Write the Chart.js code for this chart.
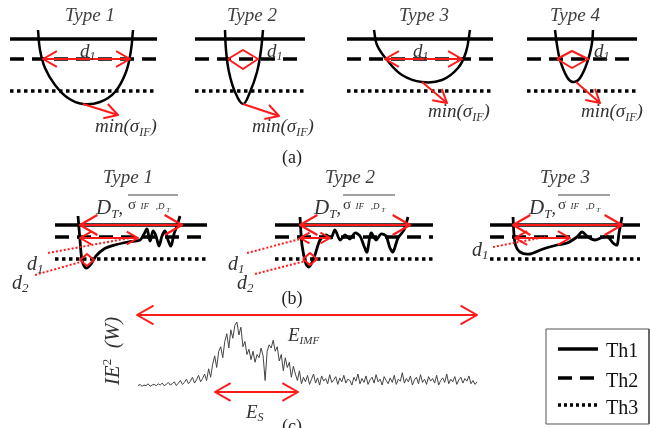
<!DOCTYPE html>
<html><head><meta charset="utf-8">
<script src="https://cdn.jsdelivr.net/npm/chart.js@4.4.0/dist/chart.umd.min.js"></script>
<style>html,body{margin:0;padding:0;background:#fff}#c{display:block}</style>
</head><body>
<canvas id="c" width="650" height="428"></canvas>
<script>
// ---------- data ----------
const TH_A = [39, 59, 91];            // Th1, Th2, Th3 levels, panel (a)
const TH_B = [225, 237, 259];         // Th1, Th2, Th3 levels, panel (b)
const SPAN_A = [[10,157],[195,305],[347,493],[527,637]];
const SPAN_B = [[55,207],[275,433],[490,640]];
const CURVE_A1 = [[38,30],[40,50],[45,68],[55,85],[68,98],[83,104],[100,102],[115,92],[126,72],[131,50],[133,30]];
const CURVE_A2 = [[225,30],[226,50],[229,72],[235,92],[243,104],[250,92],[257,72],[261,50],[263,30]];
const CURVE_A3 = [[374,30],[377,45],[387,60],[402,75],[422,82],[442,80],[458,68],[466,52],[470,30]];
const CURVE_A4 = [[555,30],[557,45],[560,60],[567,77],[573,82],[580,78],[588,60],[592,43],[593,30]];
const CURVE_B1 = [[78,216],[80,240],[82,260],[86,268],[91,264],[96,256],[104,249],[115,245],[128,242],[140,240],[144,234],[147,229],[150,241],[153,231],[156,236],[159,246],[162,236],[165,231],[168,240],[171,246],[174,234],[177,226],[180,216]];
const CURVE_B2 = [[300,217],[302,245],[306,264],[309,267],[314,258],[320,240],[326,235],[331,238],[335,230],[340,240],[345,235],[350,239],[355,233],[360,236],[364,246],[367,252],[371,233],[376,240],[381,234],[386,236],[390,248],[393,252],[398,238],[404,230],[408,217]];
const CURVE_B3 = [[513,217],[515,243],[520,252],[530,254],[543,249],[557,245],[567,243],[577,237],[582,232],[588,237],[595,240],[603,237],[608,237],[613,243],[617,245],[619,233],[622,217]];
// IE^2 signal amplitude (relative units)
const SIGNAL = [
0.02,0.04,0.01,0.03,0.02,0.05,0.01,0.03,0.04,0.02,0.05,0.03,0.06,0.02,0.04,0.07,0.03,0.05,0.08,0.02,0.06,0.1,0.04,0.07,0.12,0.05,0.09,0.15,0.06,0.11,0.18,0.08,0.13,0.2,
0.1,0.28,0.15,0.35,0.48,0.3,0.55,0.62,0.45,0.7,0.82,0.6,0.88,0.75,0.95,1.0,
0.8,0.92,0.62,0.7,0.5,0.58,0.42,0.55,0.38,
0.5,0.45,0.6,0.48,0.1,0.55,0.65,0.6,0.72,
0.55,0.62,0.4,0.5,0.25,0.45,0.3,0.38,0.15,0.32,0.2,0.1,0.25,
0.05,0.15,0.08,0.18,0.04,0.12,0.2,0.06,0.14,0.03,0.17,0.09,0.13,0.05,0.19,0.07,0.11,0.16,0.04,0.14,0.08,0.18,0.06,0.12,0.1,0.03,0.15,0.09,0.2,0.05,0.13,0.07,0.17,0.04,0.11,0.15,0.06,0.19,0.08,0.12,0.03,0.16,0.1,0.05,0.14,0.07,0.18,0.04,0.12,0.09,0.22,0.06,0.13,0.08,0.17,0.03,0.11,0.15,0.05,0.19,0.07,0.12,0.04,0.16,0.09,0.13,0.06,0.18,0.03,0.1,0.14,0.07,0.2,0.05,0.12,0.08,0.16,0.04,0.11,0.15,0.06,0.13,0.09,0.17,0.05,0.1,0.04,0.08];
const LEGEND_LABELS = ['Th1','Th2','Th3'];

// ---------- builders ----------
const RED = '#ff1a1a', BLK = '#000';
const DS = [];
function poly(pts, o = {}) {
  DS.push({data: pts.map(p => ({x:p[0], y:p[1]})), showLine:true,
    borderColor:o.color||BLK, borderWidth:o.w||2, borderDash:o.dash||[],
    tension:o.t||0, pointRadius:0, pointHoverRadius:0, fill:false,
    order:o.order ?? 1, xAxisID:o.xa||'x', yAxisID:o.ya||'y',
    borderCapStyle:o.cap||'butt', borderJoinStyle:'round', clip:false});
}
function head(tip, from, len, ang, o) {
  const dx = from[0]-tip[0], dy = from[1]-tip[1], L = Math.hypot(dx,dy);
  const ux = dx/L, uy = dy/L, c = Math.cos(ang), s = Math.sin(ang);
  poly([[tip[0]+len*(ux*c-uy*s), tip[1]+len*(ux*s+uy*c)], tip,
        [tip[0]+len*(ux*c+uy*s), tip[1]+len*(-ux*s+uy*c)]], o);
}
function arrow(a, b, len, both, o) {
  poly([a,b], o); head(b, a, len, 0.52, o); if (both) head(a, b, len, 0.52, o);
}
const R = (w=2) => ({color:RED, w, order:0});
const RD = {color:RED, w:2, dash:[2,2], order:0};

// thresholds
function thresholds(spans, ys) {
  spans.forEach(([x0,x1]) => {
    poly([[x0,ys[0]],[x1,ys[0]]], {w:3.5});
    poly([[x0,ys[1]],[x1,ys[1]]], {w:3.5, dash:[14,8]});
    poly([[x0,ys[2]],[x1,ys[2]]], {w:3.5, dash:[3.5,3.5]});
  });
}
thresholds(SPAN_A, TH_A);
thresholds(SPAN_B, TH_B);
[CURVE_A1,CURVE_A2,CURVE_A3,CURVE_A4].forEach(c => poly(c, {w:2.5, t:0.4}));
[CURVE_B1,CURVE_B2,CURVE_B3].forEach(c => poly(c, {w:2.8, t:0.3}));

// red marks (a)
arrow([43,59],[130,59],16,true,R());
arrow([385,59],[462,59],16,true,R());
poly([[228,59],[243,50],[258,59],[243,69],[228,59]],R());
poly([[557,59],[572,51],[588,59],[572,68],[557,59]],R());
arrow([83,104],[118,115],15,false,R());
arrow([243,104],[279,116],15,false,R());
arrow([422,82],[447,103],15,false,R());
arrow([576,82],[600,103],15,false,R());

// red marks (b)
arrow([80,225],[182,225],20,true,R(2.2));
arrow([80,238],[138,238],13,true,R());
poly([[80,260],[87,254],[94,260],[87,266],[80,260]],R());
poly([[48,253],[135,237]],RD);
poly([[35,275],[84,261]],RD);

arrow([300,225],[410,225],20,true,R(2.2));
arrow([300,238],[330,238],11,true,R());
poly([[303,259],[310,253],[317,259],[310,265],[303,259]],R());
poly([[247,253],[300,239]],RD);
poly([[255,274],[305,261]],RD);

arrow([513,225],[622,225],20,true,R(2.2));
arrow([515,238],[570,238],14,true,R());
poly([[493,247],[545,237]],RD);

// overlines
poly([[128,195],[178,195]],{color:'#444',w:1});
poly([[343,195],[395,195]],{color:'#444',w:1});
poly([[558,195],[610,195]],{color:'#444',w:1});

// (c)
arrow([137,315],[477,315],19,true,R());
arrow([215,392],[298,392],18,true,R());
poly(SIGNAL.map((v,i) => [i, v]), {color:'#444', w:1, xa:'xs', ya:'ys'});

// legend
poly([[546,329],[649,329],[649,424],[546,424],[546,329]],{color:'#555',w:1});
poly([[558,349],[598,349]],{w:3.5});
poly([[558,378],[598,378]],{w:3.5,dash:[14,8]});
poly([[558,405],[598,405]],{w:3.5,dash:[3,3]});

// ---------- texts ----------
const FONT = '"Liberation Serif", serif';
const SIG = [['σ',15,'n'],['  IF',9,'i'],['   ,D',9,'i'],[' T',7,'i',3]];
const TX = [
  {x:90,y:21,a:'center',c:'#404040',p:[['Type 1',19,'i']]},
  {x:252,y:21,a:'center',c:'#404040',p:[['Type 2',19,'i']]},
  {x:424,y:21,a:'center',c:'#404040',p:[['Type 3',19,'i']]},
  {x:575,y:21,a:'center',c:'#404040',p:[['Type 4',19,'i']]},
  {x:80,y:57,p:[['d',19,'i'],['1',12,'i',3]]},
  {x:267,y:57,p:[['d',19,'i'],['1',12,'i',3]]},
  {x:413,y:57,p:[['d',19,'i'],['1',12,'i',3]]},
  {x:594,y:57,p:[['d',19,'i'],['1',12,'i',3]]},
  {x:95,y:132,p:[['min(σ',19,'i'],['IF',12,'i',4],[')',19,'i']]},
  {x:252,y:132,p:[['min(σ',19,'i'],['IF',12,'i',4],[')',19,'i']]},
  {x:428,y:117,p:[['min(σ',19,'i'],['IF',12,'i',4],[')',19,'i']]},
  {x:581,y:117,p:[['min(σ',19,'i'],['IF',12,'i',4],[')',19,'i']]},
  {x:292,y:163,a:'center',c:'#222',p:[['(a)',18,'n']]},
  {x:128,y:183,a:'center',c:'#404040',p:[['Type 1',19,'i']]},
  {x:350,y:183,a:'center',c:'#404040',p:[['Type 2',19,'i']]},
  {x:565,y:183,a:'center',c:'#404040',p:[['Type 3',19,'i']]},
  {x:96,y:214,p:[['D',21,'i'],['T',13,'i',4],[',',18,'i']]},
  {x:314,y:214,p:[['D',21,'i'],['T',13,'i',4],[',',18,'i']]},
  {x:529,y:214,p:[['D',21,'i'],['T',13,'i',4],[',',18,'i']]},
  {x:128,y:209,p:SIG},
  {x:343,y:209,p:SIG},
  {x:558,y:209,p:SIG},
  {x:27,y:270,p:[['d',20,'i'],['1',13,'i',3]]},
  {x:12,y:289,p:[['d',20,'i'],['2',13,'i',3]]},
  {x:228,y:270,p:[['d',20,'i'],['1',13,'i',3]]},
  {x:237,y:289,p:[['d',20,'i'],['2',13,'i',3]]},
  {x:472,y:256,p:[['d',20,'i'],['1',13,'i',3]]},
  {x:292,y:304,a:'center',c:'#222',p:[['(b)',18,'n']]},
  {x:288,y:341,p:[['E',19,'i'],['IMF',11,'i',3]]},
  {x:246,y:418,p:[['E',19,'i'],['S',12,'i',3]]},
  {x:292,y:432,a:'center',c:'#222',p:[['(c)',18,'n']]},
  {x:119,y:351,a:'center',rot:true,p:[['IE',21,'i'],['2',13,'n',-8],['  (W)',21,'i']]},
  {x:606,y:357,c:'#111',p:[['Th1',20,'n']]},
  {x:606,y:387,c:'#111',p:[['Th2',20,'n']]},
  {x:606,y:414,c:'#111',p:[['Th3',20,'n']]},
];
const fontOf = (s, st) => `${st==='i'?'italic ':''}${s}px ${FONT}`;
const textPlugin = {
  id:'texts',
  afterDraw(chart) {
    const ctx = chart.ctx, sx = chart.scales.x, sy = chart.scales.y;
    TX.forEach(t => {
      ctx.save();
      ctx.fillStyle = t.c || '#333';
      ctx.textBaseline = 'alphabetic';
      ctx.textAlign = 'left';
      let w = 0;
      t.p.forEach(([s,sz,st]) => { ctx.font = fontOf(sz,st); w += ctx.measureText(s).width; });
      ctx.translate(sx.getPixelForValue(t.x), sy.getPixelForValue(t.y));
      if (t.rot) ctx.rotate(-Math.PI/2);
      let x = (t.a === 'center' || t.rot) ? -w/2 : 0;
      t.p.forEach(([s,sz,st,dy]) => {
        ctx.font = fontOf(sz,st);
        ctx.fillText(s, x, dy || 0);
        x += ctx.measureText(s).width;
      });
      ctx.restore();
    });
  }
};

// signal scale mapping (amplitude 0 -> y 387, 1 -> y 322; index 0 -> x 138, last -> x 477)
const W = 650, H = 428;
const step = (477-138)/(SIGNAL.length-1);
const ampPx = 65, yMax = 387/ampPx, yMin = yMax - H/ampPx;

new Chart(document.getElementById('c'), {
  type:'scatter',
  data:{datasets:DS},
  options:{
    responsive:false, animation:false, devicePixelRatio:1,
    layout:{padding:0},
    plugins:{legend:{display:false}, tooltip:{enabled:false}},
    events:[],
    scales:{
      x:{type:'linear',min:0,max:W,display:false},
      y:{type:'linear',min:0,max:H,reverse:true,display:false},
      xs:{type:'linear',min:-138/step,max:(W-138)/step,display:false},
      ys:{type:'linear',min:yMin,max:yMax,display:false}
    }
  },
  plugins:[textPlugin]
});
</script>
</body></html>
